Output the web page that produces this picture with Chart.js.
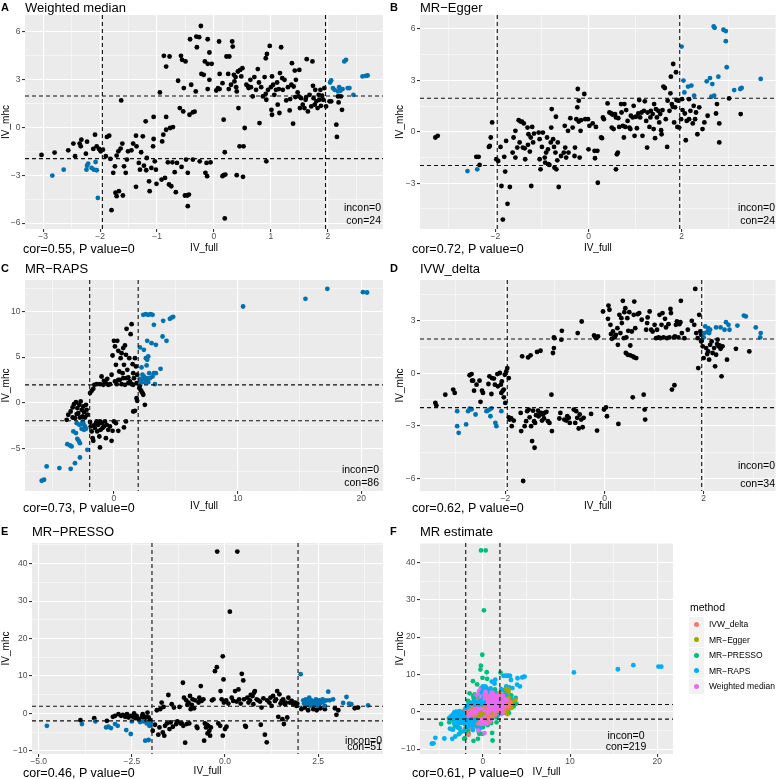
<!DOCTYPE html>
<html>
<head>
<meta charset="utf-8">
<script src="https://cdn.jsdelivr.net/npm/chart.js@4.4.0/dist/chart.umd.min.js"></script>
<style>
  body { margin: 0; background: #fff; width: 778px; height: 779px; position: relative; overflow: hidden;
         font-family: "Liberation Sans", Arial, sans-serif; }
  canvas { position: absolute; }
  .t { position: absolute; white-space: nowrap; line-height: 1; color: #000; }
  .key { position: absolute; width: 15px; height: 15px; background: #F2F2F2; }
  .dot { position: absolute; width: 5px; height: 5px; border-radius: 50%; left: 5px; top: 5px; }
</style>
</head>
<body>
<script>
// ---- data: [IV_full, IV_mhc] ----
const weightedMedian = [
  [-3.03,-1.73],[-2.80,-1.58],[-2.84,-3.02],[-2.64,-2.65],[-2.56,-1.44],[-2.47,-1.02],[-2.44,-1.81],[-2.36,-1.02],
  [-2.33,-0.77],[-2.34,-1.19],[-2.25,-1.65],[-2.23,-0.9],[-2.24,-2.65],[-2.23,-2.4],[-2.21,-2.27],[-2.15,-2.54],
  [-2.11,-2.65],[-2.06,-2.69],[-2.08,-2.17],[-2.12,-1.35],[-2.09,-0.46],[-2.06,-1.19],[-2.02,-1.35],[-2.04,-4.42],
  [-1.99,-1.5],[-1.95,-1.4],[-1.90,-1.81],[-1.88,-0.6],[-1.84,-0.52],[-1.82,-1.98],[-1.80,-5.19],[-1.77,-2.85],
  [-1.74,-2.44],[-1.73,-4.1],[-1.71,-4.31],[-1.67,-4.0],[-1.71,-1.77],[-1.68,-1.5],[-1.64,-1.33],[-1.61,-1.02],
  [-1.63,1.69],[-1.60,-4.27],[-1.58,-2.44],[-1.55,-2.85],[-1.53,-2.02],[-1.51,-1.5],[-1.45,-1.44],[-1.42,-1.02],
  [-1.37,-0.52],[-1.36,-1.19],[-1.37,-3.73],[-1.32,-2.23],[-1.30,-2.65],[-1.28,-1.56],[-1.25,-0.56],[-1.23,-2.4],
  [-1.19,-2.69],[-1.20,0.38],[-1.18,-1.92],[-1.14,-3.38],[-1.13,-4.0],[-1.10,-2.54],[-1.07,-1.19],[-1.06,-0.73],
  [-1.04,-2.13],[-1.06,0.65],[-1.01,-3.54],[-1.02,-2.65],[-0.95,2.19],[-0.92,-3.27],[-0.91,-0.88],[-0.89,-0.46],
  [-0.88,4.48],[-0.86,-3.17],[-0.84,3.81],[-0.84,-0.15],[-0.81,-2.19],[-0.79,-3.58],[-0.78,4.44],[-0.84,0.65],
  [-0.77,-0.04],[-0.75,-3.69],[-0.73,-2.19],[-0.72,0.02],[-0.69,-2.81],[-0.67,-4.06],[-0.65,-2.23],[-0.63,2.92],
  [-0.60,1.21],[-0.58,4.48],[-0.56,4.23],[-0.57,-2.48],[-0.54,1.0],[-0.53,2.46],[-0.51,-4.27],[-0.50,4.13],
  [-0.49,-2.02],[-0.47,-4.27],[-0.46,-4.94],[-0.46,-2.85],[-0.44,-4.21],[-0.43,0.79],[-0.42,5.52],[-0.40,2.67],
  [-0.37,-2.02],[-0.37,0.94],[-0.34,0.98],[-0.32,2.25],[-0.31,5.69],[-0.30,5.02],[-0.26,5.65],[-0.25,-2.13],
  [-0.23,6.35],[-0.22,3.35],[-0.18,3.29],[-0.16,4.13],[-0.15,-2.85],[-0.13,-2.23],[-0.12,-3.06],[-0.11,5.52],
  [-0.11,3.98],[-0.11,2.4],[-0.08,4.69],[-0.08,2.98],[-0.06,-2.19],[-0.04,3.98],[0.04,2.31],[0.07,2.46],
  [0.10,2.4],[0.09,5.38],[0.10,3.35],[0.15,2.77],[0.15,-3.06],[0.17,-3.0],[0.17,0.48],[0.19,-1.56],
  [0.19,-5.71],[0.20,-2.96],[0.22,4.44],[0.25,3.35],[0.26,2.4],[0.27,4.44],[0.30,2.67],[0.32,5.38],
  [0.33,5.06],[0.35,3.29],[0.36,2.88],[0.38,3.15],[0.39,2.52],[0.40,-3.0],[0.40,2.25],[0.42,3.5],
  [0.43,1.21],[0.45,-1.19],[0.46,3.6],[0.48,3.19],[0.50,3.71],[0.51,-3.1],[0.52,-1.19],[0.54,-0.04],
  [0.57,2.67],[0.60,2.56],[0.61,2.46],[0.64,2.98],[0.65,2.52],[0.68,1.94],[0.71,3.15],[0.74,2.35],
  [0.77,3.65],[0.79,2.81],[0.80,0.27],[0.83,2.52],[0.86,1.94],[0.89,3.15],[0.91,4.33],[0.91,2.1],
  [0.92,1.73],[0.93,4.6],[0.92,-2.13],[0.95,2.35],[0.98,5.1],[1.0,2.52],[1.01,1.1],[1.02,0.79],
  [1.02,3.19],[1.04,2.67],[1.06,2.04],[1.09,2.35],[1.11,2.81],[1.12,1.42],[1.14,2.4],[1.15,0.9],
  [1.16,3.4],[1.18,5.02],[1.20,3.08],[1.21,2.35],[1.24,2.98],[1.27,1.69],[1.30,2.52],[1.33,1.06],
  [1.34,1.77],[1.36,2.67],[1.37,4.02],[1.39,0.23],[1.40,2.56],[1.42,3.56],[1.43,1.9],[1.44,2.98],
  [1.47,2.19],[1.49,1.94],[1.50,3.6],[1.51,1.21],[1.53,1.83],[1.56,1.42],[1.59,1.21],[1.61,1.73],
  [1.62,1.9],[1.63,4.27],[1.65,1.0],[1.68,2.04],[1.71,1.31],[1.73,4.13],[1.74,2.6],[1.75,1.83],
  [1.77,1.42],[1.78,2.35],[1.80,1.63],[1.82,1.21],[1.84,2.04],[1.85,1.73],[1.87,2.35],[1.88,1.35],
  [1.90,1.98],[1.92,1.73],[1.94,2.46],[1.97,1.31],[2.03,1.63],[2.06,1.63],[2.04,2.81],[2.06,2.94],
  [2.09,2.46],[2.12,2.35],[2.15,0.17],[2.16,-0.6],[2.18,1.94],[2.18,2.25],[2.19,1.56],[2.20,2.52],
  [2.22,2.29],[2.23,1.94],[2.25,1.1],[2.26,2.4],[2.29,4.13],[2.32,4.23],[2.35,2.46],[2.38,2.46],
  [2.45,2.04],[2.61,3.19],[2.67,3.23],[2.70,3.25]
];

const mrEgger = [
  [-3.29,-0.33],[-3.24,-0.23],[-2.6,-2.29],[-2.39,-2.19],[-2.41,-1.46],[-2.36,-1.46],[-2.34,-1.93],[-2.14,-0.88],
  [-2.12,-0.82],[-2.10,-0.33],[-2.07,0.55],[-1.98,-1.6],[-1.94,-1.7],[-1.89,-0.88],[-1.87,-3.16],[-1.84,-5.12],
  [-1.81,-1.46],[-1.79,-2.32],[-1.77,-0.53],[-1.74,-4.2],[-1.69,-3.22],[-1.63,-1.21],[-1.61,-0.33],[-1.57,0.06],
  [-1.57,-1.5],[-1.53,-0.92],[-1.50,0.68],[-1.48,-0.62],[-1.46,0.6],[-1.43,0.6],[-1.41,-0.92],[-1.39,0.49],
  [-1.37,-0.96],[-1.36,-1.6],[-1.31,0.25],[-1.30,-0.76],[-1.29,-0.14],[-1.26,-1.15],[-1.24,-0.33],[-1.23,-3.16],
  [-1.21,0.29],[-1.19,-0.62],[-1.17,-0.1],[-1.07,-0.04],[-1.05,-0.43],[-1.05,-1.6],[-1.03,-2.19],[-1.0,-0.88],
  [-0.98,-0.04],[-0.94,-1.5],[-0.93,-1.8],[-0.91,-1.21],[-0.89,-0.33],[-0.87,-1.02],[-0.86,-1.89],[-0.84,-1.93],
  [-0.81,-0.62],[-0.80,0.25],[-0.79,1.33],[-0.76,-0.43],[-0.74,-0.88],[-0.73,-2.09],[-0.71,-1.21],[-0.70,0.88],
  [-0.69,-2.19],[-0.67,-1.66],[-0.66,-0.62],[-0.64,-3.22],[-0.59,-1.41],[-0.53,-1.21],[-0.51,0.35],[-0.50,-0.92],
  [-0.48,-1.5],[-0.44,0.06],[-0.43,-1.21],[-0.39,0.8],[-0.34,0.25],[-0.30,-1.41],[-0.29,-0.92],[-0.26,0.74],
  [-0.24,1.43],[-0.23,2.5],[-0.21,1.82],[-0.21,0.6],[-0.19,-1.5],[-0.17,0.06],[-0.16,0.68],[-0.09,2.21],
  [-0.07,0.74],[-0.01,0.74],[0.0,-1.02],[0.02,0.35],[0.09,0.49],[0.13,-1.11],[0.14,-1.54],[0.16,0.29],
  [0.19,-1.11],[0.2,-2.97],[0.27,-0.33],[0.29,-0.37],[0.31,0.84],[0.33,0.74],[0.41,1.66],[0.45,1.13],
  [0.49,1.07],[0.50,0.25],[0.52,1.0],[0.54,0.16],[0.57,1.04],[0.59,0.84],[0.61,-1.31],[0.63,-1.21],
  [0.59,-2.19],[0.64,0.8],[0.66,0.29],[0.70,1.62],[0.71,1.13],[0.74,0.35],[0.76,-0.33],[0.77,1.62],
  [0.79,0.29],[0.81,1.27],[0.84,0.64],[0.88,0.25],[0.90,0.16],[0.91,0.94],[0.95,0.84],[0.97,1.52],
  [0.99,-0.23],[1.02,0.88],[1.04,0.21],[1.07,1.07],[1.09,1.86],[1.11,0.84],[1.14,1.13],[1.16,-0.23],
  [1.19,1.23],[1.21,1.78],[1.24,0.64],[1.26,-0.92],[1.27,1.13],[1.31,0.29],[1.33,0.84],[1.34,1.23],
  [1.38,1.04],[1.40,0.16],[1.41,1.62],[1.43,-0.37],[1.45,1.33],[1.47,0.84],[1.50,1.23],[1.52,0.55],
  [1.54,1.04],[1.56,0.1],[1.57,-0.14],[1.59,1.27],[1.61,2.64],[1.64,2.56],[1.66,0.74],[1.69,-0.88],
  [1.70,1.82],[1.74,1.23],[1.76,2.25],[1.77,3.22],[1.79,1.62],[1.81,1.46],[1.82,3.96],[1.84,0.55],
  [1.86,1.43],[1.88,3.48],[1.89,1.86],[1.91,0.29],[1.93,1.82],[1.95,0.25],[1.99,0.74],[2.0,4.98],
  [2.01,1.91],[2.02,1.27],[2.04,2.99],[2.06,2.3],[2.07,1.07],[2.09,-0.49],[2.11,0.64],[2.14,2.64],
  [2.16,1.91],[2.16,0.74],[2.19,1.23],[2.21,2.7],[2.24,0.49],[2.26,1.52],[2.27,2.11],[2.29,0.74],
  [2.31,1.13],[2.34,-0.14],[2.38,1.43],[2.45,0.16],[2.49,0.55],[2.54,2.95],[2.56,0.94],[2.61,3.14],
  [2.64,2.05],[2.66,2.79],[2.69,6.15],[2.71,6.07],[2.70,2.11],[2.74,1.07],[2.76,1.62],[2.79,3.22],
  [2.81,0.49],[2.81,-0.62],[2.90,5.96],[2.95,5.88],[2.95,5.29],[2.97,3.77],[3.02,1.95],[3.13,2.44],
  [3.26,2.5],[3.29,2.56],[3.27,1.04],[3.70,3.09]
];

const mrRaps = [
  [10.44,10.55],[15.48,11.39],[17.25,12.48],[20.13,12.12],[20.46,12.08],
  [2.37,9.64],[2.58,9.71],[2.77,9.64],[2.96,9.71],[3.12,9.64],[3.23,8.54],[3.98,8.98],[4.52,9.2],
  [4.66,9.34],[4.79,9.42],[3.93,7.26],[4.25,6.79],[2.10,6.06],[2.69,6.79],[3.04,6.53],[3.39,6.35],
  [2.42,5.8],[2.58,4.89],[2.69,4.71],[2.77,5.07],[2.64,4.09],[2.23,3.87],[2.31,3.07],[2.42,2.88],
  [2.37,2.52],[2.58,2.41],[2.77,2.26],[2.91,2.7],[3.12,2.88],[3.23,3.25],[3.39,3.25],[3.77,3.72],
  [3.31,2.04],[2.15,2.15],[2.10,2.63],[2.23,2.34],[2.50,2.26],[2.64,2.7],[2.85,3.25],
  [-5.84,-8.54],[-5.65,-8.43],[-5.44,-6.97],[-4.41,-7.15],[-3.50,-7.23],[-3.15,-6.61],[-2.75,-5.99],
  [-3.77,-4.53],[-3.55,-4.67],[-3.42,-4.78],[-3.28,-3.14],[-3.07,-3.32],[-2.96,-3.94],[-2.85,-4.16],
  [-2.75,-4.42],[-2.61,-2.85],[-2.80,-2.41],[-3.01,-2.23],[-2.48,-2.23],[-2.34,-2.59],[-2.26,-2.85],
  [-2.15,-5.15],[-2.53,-2.04],[-2.64,-2.34],[-2.42,-2.96],
  [-3.82,-1.86],[-3.69,-1.31],[-3.50,-0.95],[-3.34,-0.51],[-3.23,-0.15],[-3.07,0.07],[-2.96,-0.58],
  [-2.88,-1.13],[-2.80,-0.22],[-2.69,0.15],[-2.61,-0.77],[-2.53,-1.5],[-2.48,-0.4],[-2.42,-1.02],
  [-2.34,-1.61],[-2.26,-0.22],[-2.21,-0.77],[-2.15,-1.31],[-3.34,-1.61],[-3.15,-1.68],[-2.75,-1.61],
  [-3.01,-1.24],
  [-1.93,-2.1],[-1.88,-2.59],[-1.80,-3.14],[-1.72,-3.87],[-1.67,-4.16],[-1.53,-2.77],[-1.45,-2.23],
  [-1.35,-3.14],[-1.27,-2.41],[-1.18,-3.69],[-1.13,-4.89],[-1.08,-2.96],[-1.0,-2.23],[-0.92,-2.77],
  [-0.81,-2.59],[-0.65,-3.87],[-0.59,-2.41],[-0.46,-2.96],[-0.32,-2.59],[-0.19,-4.16],[-0.11,-3.07],
  [0.0,-2.04],[0.16,-2.23],[0.35,-3.07],[0.81,-2.7],[0.97,-2.04],[-1.62,-2.48],[-1.40,-2.04],
  [-1.13,-2.04],[-0.73,-2.04],
  [-1.93,1.06],[-1.80,1.31],[-1.67,1.53],[-1.59,1.97],[-1.40,2.04],[-1.13,2.04],[-1.0,2.88],[-0.81,2.41],
  [-0.65,2.15],[-0.54,2.63],[-0.32,2.04],[-0.19,3.07],[-0.11,5.18],[0.0,6.79],[0.08,6.17],[0.16,4.16],
  [0.27,6.79],[0.35,5.69],[0.43,3.43],[0.48,2.52],[0.54,4.89],[0.62,5.44],[0.70,3.25],[0.75,5.99],
  [0.81,4.16],[0.89,6.28],[0.97,5.26],[1.02,8.1],[1.08,3.61],[1.16,2.77],[1.24,4.89],[1.35,7.52],
  [1.43,8.61],[1.51,4.23],[1.56,3.25],[1.62,2.7],[1.70,4.89],[1.78,3.98],[1.83,2.15],[1.88,3.07],
  [0.22,2.04],[0.08,2.34],[0.35,2.52],[0.62,2.04],[0.75,2.7],[0.89,1.97],[1.02,2.7],[1.16,2.15],
  [1.29,2.34],[1.43,2.04],[1.56,1.97],[-0.46,1.97],[-0.86,1.97],
  [1.83,0.51],[1.70,-0.88],[1.56,-0.95],[2.05,1.61],[2.15,1.42],[2.23,1.24],[2.31,1.06],[2.37,0.88],
  [2.50,-0.22],[2.10,1.90],[1.88,0.22]
];

const ivwDelta = [
  [-3.41,-1.69],[-3.39,-1.84],[-3.21,-1.22],[-3.05,-0.93],[-3.02,-1.12],[-2.97,-2.16],[-2.97,-3.02],[-2.94,-3.40],
  [-2.79,-2.92],[-2.75,-2.16],[-2.72,-2.02],[-2.68,-2.05],[-2.72,-0.11],[-2.68,-0.04],[-2.67,-0.42],[-2.65,-0.42],
  [-2.63,-0.99],[-2.60,-2.35],[-2.58,-0.65],[-2.52,-0.42],[-2.50,-1.63],[-2.47,-0.99],[-2.45,-1.12],[-2.38,-2.16],
  [-2.36,-2.13],[-2.32,-2.07],[-2.30,-2.45],[-2.28,-2.0],[-2.34,-0.61],[-2.32,-0.17],[-2.28,-1.18],[-2.27,-0.27],
  [-2.23,-0.30],[-2.21,-0.65],[-2.20,-2.83],[-2.18,-3.02],[-2.16,-0.04],[-2.15,-0.74],[-2.11,0.02],[-2.09,-0.65],
  [-2.08,-2.16],[-2.08,-1.12],[-2.07,-0.46],[-2.05,-0.99],[-2.03,-0.93],[-2.01,-0.08],[-2.0,-1.69],[-1.98,0.11],
  [-1.96,0.30],[-1.93,-0.27],[-2.03,-1.37],[-1.93,-2.51],[-1.91,-2.64],[-1.88,-2.58],[-1.87,-3.02],[-1.83,-2.70],
  [-1.69,-2.26],[-1.68,-3.30],[-1.66,0.97],[-1.64,-6.15],[-1.61,-3.02],[-1.58,-2.73],[-1.56,-2.16],[-1.54,0.91],
  [-1.53,-2.07],[-1.51,-2.51],[-1.49,1.03],[-1.48,-3.02],[-1.46,-3.87],[-1.44,-2.13],[-1.42,-2.73],[-1.41,-4.25],
  [-1.40,-2.83],[-1.38,-2.39],[-1.36,1.22],[-1.34,-2.13],[-1.33,-2.45],[-1.31,-2.35],[-1.29,1.29],[-1.28,-2.26],
  [-1.26,-2.70],[-1.24,-2.35],[-1.22,-2.58],[-1.21,-2.26],[-1.17,-2.20],[-1.14,-2.73],[-1.11,-2.83],[-1.07,-1.22],
  [-1.06,-3.30],[-1.04,1.16],[-1.02,1.44],[-1.02,2.05],[-1.01,2.01],[-0.91,-2.58],[-0.89,-2.26],[-0.87,1.92],
  [-0.86,2.43],[-0.81,-2.64],[-0.77,-2.70],[-0.75,-2.45],[-0.72,-2.54],[-0.70,-2.83],[-0.62,-2.07],[-0.59,-2.83],
  [-0.57,-2.16],[-0.55,-2.54],[-0.54,2.30],[-0.52,-3.15],[-0.50,-2.35],[-0.47,-2.64],[-0.46,2.96],[-0.44,-3.08],
  [-0.42,-2.54],[-0.27,-2.32],[-0.21,2.16],[-0.19,2.09],[-0.17,2.01],[-0.15,-3.27],[-0.13,2.11],[-0.03,3.53],
  [-0.01,-2.07],[0.03,-1.94],[0.05,-2.45],[0.07,3.11],[0.08,3.87],[0.10,3.63],[0.12,2.77],[0.13,2.24],
  [0.15,1.97],[0.17,2.39],[0.20,2.05],[0.21,2.11],[0.23,2.20],[0.26,2.58],[0.27,1.63],[0.28,-2.89],
  [0.30,3.34],[0.32,2.30],[0.34,3.15],[0.35,2.87],[0.37,4.14],[0.39,2.01],[0.40,3.49],[0.42,3.72],
  [0.43,1.16],[0.44,2.05],[0.46,3.15],[0.47,1.06],[0.48,2.43],[0.50,3.49],[0.52,1.59],[0.52,1.03],
  [0.55,2.39],[0.57,0.97],[0.59,3.34],[0.60,4.10],[0.60,0.91],[0.62,2.58],[0.64,0.87],[0.57,-1.37],
  [0.67,3.38],[0.70,3.44],[0.75,3.06],[0.79,-1.22],[0.81,-2.07],[0.82,-2.64],[0.84,2.49],[0.86,2.87],
  [0.87,3.19],[0.91,3.53],[0.94,2.49],[0.97,2.39],[1.01,2.77],[1.04,2.01],[1.06,2.49],[1.09,2.05],
  [1.11,3.34],[1.13,2.01],[1.15,2.77],[1.17,3.44],[1.19,2.05],[1.22,3.11],[1.24,2.62],[1.26,2.01],
  [1.29,2.81],[1.31,2.05],[1.33,3.68],[1.34,3.44],[1.36,-0.93],[1.40,2.05],[1.41,-0.68],[1.42,2.11],
  [1.44,2.77],[1.46,2.96],[1.49,2.05],[1.51,2.81],[1.53,2.92],[1.54,4.14],[1.56,2.30],[1.61,2.01],
  [1.68,2.49],[1.76,3.0],[1.81,2.77],[1.83,4.82],[1.85,2.30],[1.88,2.01],[1.89,0.30],[1.91,3.34],
  [1.93,2.39],[1.95,1.82],[1.96,1.86],[1.95,2.20],[2.0,2.05],[2.01,2.30],[2.03,2.68],[2.07,2.35],
  [2.09,2.58],[2.11,2.30],[2.13,2.49],[1.98,1.54],[2.0,0.87],[2.05,1.44],[2.07,1.10],[2.09,1.25],
  [2.11,0.78],[2.13,1.63],[2.16,1.82],[2.18,1.16],[2.21,1.44],[2.23,0.40],[2.25,1.06],[2.27,1.67],
  [2.28,1.92],[2.30,1.54],[2.32,1.59],[2.34,1.40],[2.35,1.48],[2.36,-0.17],[2.38,1.54],[2.25,2.62],
  [2.34,2.62],[2.42,2.49],[2.45,2.92],[2.50,2.77],[2.52,2.49],[2.47,0.78],[2.65,1.40],[2.68,2.73],
  [2.81,3.30],[2.85,3.25],[2.92,1.25],[3.05,2.62],[3.15,2.30],[3.14,2.05]
];

const mrPresso = [
  [-4.78,-3.27],[-3.84,-2.82],[-3.88,-1.77],[-3.48,-2.12],[-3.51,-1.24],[-3.19,-3.71],[-3.13,-3.53],[-3.06,-3.88],
  [-2.95,-2.82],[-2.88,-3.27],[-2.65,-4.41],[-2.53,-5.47],[-3.17,-1.94],[-3.01,-0.88],[-2.95,-0.62],[-2.86,-0.18],
  [-2.79,-0.62],[-2.74,-0.35],[-2.68,-0.88],[-2.63,-0.18],[-2.59,-1.06],[-2.54,-0.62],[-2.50,-2.12],[-2.47,-0.88],
  [-2.44,0.0],[-2.41,-1.24],[-2.37,-0.62],[-2.32,-1.5],[-2.28,-2.29],[-2.23,-0.88],[-2.21,-0.18],[-2.19,-2.12],
  [-2.17,-1.5],[-2.14,-7.24],[-2.12,-0.88],[-2.10,-2.65],[-2.08,0.26],[-2.05,-7.06],[-2.05,-1.06],[-2.03,-3.27],
  [-2.01,-1.77],[-1.99,-2.65],[-1.94,-4.59],[-1.88,-3.0],[-1.83,0.88],[-1.79,-5.65],[-1.76,-3.71],[-1.74,1.15],
  [-1.70,2.91],[-1.67,-5.03],[-1.65,1.77],[-1.63,-5.91],[-1.61,-3.27],[-1.56,-2.65],[-1.52,4.94],[-1.49,-4.15],
  [-1.46,-2.38],[-1.43,2.47],[-1.40,-3.53],[-1.37,1.59],[-1.31,-2.82],[-1.28,-2.12],[-1.22,1.77],[-1.19,-2.65],
  [-1.16,-2.65],[-1.13,8.21],[-1.12,-3.27],[-1.10,4.24],[-1.07,-7.77],[-1.04,3.53],[-1.03,-2.82],[-1.01,2.29],
  [-0.98,2.91],[-0.96,-2.65],[-0.94,4.68],[-0.92,1.15],[-0.89,2.29],[-0.87,3.79],[-0.83,1.41],[-0.80,3.53],
  [-0.76,-3.53],[-0.74,-3.88],[-0.71,2.91],[-0.69,4.24],[-0.67,3.53],[-0.65,7.33],[-0.63,3.35],[-0.58,3.79],
  [-0.56,-7.24],[-0.54,-2.65],[-0.51,-3.71],[-0.49,-3.0],[-0.47,-5.30],[-0.45,-3.27],[-0.42,-4.59],[-0.40,-5.91],
  [-0.38,-3.71],[-0.35,3.53],[-0.31,3.79],[-0.27,11.3],[-0.22,12.36],[-0.21,43.2],[-0.18,-2.65],[-0.13,-3.27],
  [-0.12,6.0],[-0.09,3.79],[-0.06,15.27],[-0.06,-5.91],[-0.04,9.09],[-0.03,2.91],[0.0,-4.15],[0.03,3.53],
  [0.04,-3.53],[0.09,2.65],[0.13,27.18],[0.18,4.24],[0.22,3.35],[0.27,6.0],[0.31,3.18],[0.33,43.2],
  [0.36,6.44],[0.38,3.79],[0.42,2.65],[0.45,10.59],[0.49,8.83],[0.51,3.79],[0.54,-3.27],[0.56,-3.53],
  [0.60,4.24],[0.63,2.91],[0.67,3.53],[0.69,4.94],[0.74,4.68],[0.76,2.47],[0.78,5.56],[0.80,6.0],
  [0.85,3.79],[0.89,3.53],[0.94,3.18],[0.96,-3.0],[0.98,1.59],[1.03,4.06],[1.07,-5.65],[1.12,-7.68],
  [1.13,3.53],[1.19,2.91],[1.22,4.24],[1.25,2.03],[1.29,4.68],[1.34,3.35],[1.37,3.79],[1.40,6.0],
  [1.43,-0.88],[1.46,5.12],[1.49,2.65],[1.52,3.35],[1.54,-1.5],[1.56,3.79],[1.58,-2.82],[1.61,2.47],
  [1.63,2.91],[1.67,-1.06],[1.70,4.24],[1.74,2.91],[1.79,3.35],[1.83,2.47],[1.88,2.91],[1.92,2.03],
  [1.94,2.65],[2.03,10.5],[2.10,3.53],[2.12,2.65],[2.14,1.59],[2.17,3.79],[2.19,2.91],[2.23,2.29],
  [2.26,4.24],[2.28,3.18],[2.29,2.03],[2.32,3.53],[2.35,2.65],[2.37,1.15],[2.38,3.18],[2.41,2.29],
  [2.44,3.79],[2.46,2.91],[2.47,2.03],[2.50,3.35],[2.53,2.47],[2.54,3.53],[2.56,1.41],[2.59,2.91],
  [2.62,3.79],[2.65,3.18],[2.68,2.03],[2.72,3.53],[2.77,5.83],[2.81,3.53],[2.90,3.79],[2.95,1.41],
  [2.99,-0.35],[3.04,0.88],[3.17,2.82],[3.26,4.41],[3.33,2.65],[3.39,2.47],[3.48,1.41],[3.57,1.59],
  [3.84,2.2],[2.05,1.15],[2.23,0.88],[2.46,0.88],[2.68,1.15]
];

// axis breaks
const wmXTicks = [-3, -2, -1, 0, 1, 2];
const wmYTicks = [-6, -3, 0, 3, 6];
const eggerXTicks = [-2, 0, 2];
const eggerYTicks = [-3, 0, 3, 6];
const rapsXTicks = [0, 10, 20];
const rapsYTicks = [-5, 0, 5, 10];
const ivwXTicks = [-2, 0, 2];
const ivwYTicks = [-6, -3, 0, 3];
const pressoXTicks = [-5, -2.5, 0, 2.5];
const pressoYTicks = [-10, 0, 10, 20, 30, 40];
const allXTicks = [0, 10, 20];
const allYTicks = [-10, 0, 10, 20, 30, 40];

const methods = ['IVW_delta', 'MR\u2212Egger', 'MR\u2212PRESSO', 'MR\u2212RAPS', 'Weighted median'];
const methodColors = ['#F8766D', '#A3A500', '#00BF7D', '#00B0F6', '#E76BF3'];

const THRESH = 1.96;
const FONT = '"Liberation Sans", Arial, sans-serif';

function splitCon(pts) {
  const con = [], other = [];
  pts.forEach(([x, y]) => {
    const c = (x > THRESH && y > THRESH) || (x < -THRESH && y < -THRESH);
    (c ? con : other).push({x, y});
  });
  return {con, other};
}

function tickList(majors, min, max) {
  const step = majors[1] - majors[0];
  const vals = [majors[0] - step / 2];
  majors.forEach(v => vals.push(v, v + step / 2));
  return vals.filter(v => v >= min && v <= max)
    .map(v => ({value: v, isMajor: majors.includes(v)}));
}

const fmt = (v, dec) => v.toFixed(dec).replace('-', '\u2212');

const panelBg = {
  id: 'panelBg',
  beforeDraw(chart) {
    const {ctx, chartArea: a} = chart;
    ctx.save();
    ctx.fillStyle = '#EBEBEB';
    ctx.fillRect(a.left, a.top, a.width, a.height);
    ctx.restore();
  }
};

const refLines = {
  id: 'refLines',
  afterDatasetsDraw(chart) {
    const {ctx, chartArea: a, scales: {x, y}} = chart;
    ctx.save();
    ctx.beginPath(); ctx.rect(a.left, a.top, a.width, a.height); ctx.clip();
    ctx.strokeStyle = '#111'; ctx.lineWidth = 1.1; ctx.setLineDash([4, 3]);
    [-THRESH, THRESH].forEach(v => {
      const px = x.getPixelForValue(v), py = y.getPixelForValue(v);
      ctx.beginPath(); ctx.moveTo(px, a.top); ctx.lineTo(px, a.bottom); ctx.stroke();
      ctx.beginPath(); ctx.moveTo(a.left, py); ctx.lineTo(a.right, py); ctx.stroke();
    });
    ctx.restore();
  }
};

function addText(txt, x, y, o = {}) {
  const d = document.createElement('div');
  d.className = 't';
  d.textContent = txt;
  d.style.left = x + 'px';
  d.style.top = y + 'px';
  d.style.fontSize = (o.size || 12) + 'px';
  if (o.bold) d.style.fontWeight = 'bold';
  const tx = o.align === 'right' ? '-100%' : o.align === 'center' ? '-50%' : '0';
  d.style.transform = `translate(${tx}, -50%)`;
  document.body.appendChild(d);
}

function axis(majors, min, max, dec, extra) {
  return Object.assign({
    type: 'linear', min, max,
    afterBuildTicks: s => { s.ticks = tickList(majors, min, max); },
    ticks: {
      autoSkip: false, maxRotation: 0, color: '#4D4D4D', font: {size: 8.5, family: FONT},
      callback: (v, i, ticks) => ticks[i] && ticks[i].isMajor ? fmt(v, dec) : ''
    },
    grid: {
      color: '#FFFFFF', tickLength: 3,
      lineWidth: c => c.tick && c.tick.isMajor ? 1.1 : 0.5,
      tickColor: c => c.tick && c.tick.isMajor ? '#333333' : 'rgba(0,0,0,0)'
    },
    border: {display: false}
  }, extra);
}

function panel(p, datasets) {
  const cv = document.createElement('canvas');
  cv.width = p.w; cv.height = p.h;
  cv.style.left = p.left + 'px'; cv.style.top = p.top + 'px';
  document.body.appendChild(cv);
  const xAx = axis(p.xTicks, p.xMin, p.xMax, p.dec, {
    position: 'bottom',
    title: {display: true, text: 'IV_full', color: '#000', font: {size: 10, family: FONT, lineHeight: 1.2},
            padding: {top: 0, bottom: p.top + p.h - p.xTitleY - 6}},
    afterFit: s => { s.height = p.top + p.h - p.plot.b; }
  });
  xAx.ticks.padding = 0;
  const yAx = axis(p.yTicks, p.yMin, p.yMax, 0, {
    position: 'left',
    title: {display: true, text: 'IV_mhc', color: '#000', font: {size: 10, family: FONT, lineHeight: 1.2},
            padding: {top: Math.max(0, p.yTitleX - p.left - 6), bottom: 0}},
    afterFit: s => { s.width = p.plot.l - p.left; }
  });
  yAx.ticks.padding = 1.5;
  new Chart(cv, {
    type: 'scatter',
    data: {datasets},
    options: {
      responsive: false, animation: false, devicePixelRatio: 1, events: [],
      layout: {padding: {left: 0, top: p.plot.t - p.top, right: p.left + p.w - p.plot.r, bottom: 0}},
      plugins: {legend: {display: false}, tooltip: {enabled: false}},
      elements: {point: {radius: 2.4, borderWidth: 0, hoverRadius: 2.4}},
      scales: {x: xAx, y: yAx}
    },
    plugins: [panelBg, refLines]
  });
  addText(p.letter, p.left + 1, p.titleY, {size: 11, bold: true});
  addText(p.title, p.plot.l, p.titleY, {size: 13});
  addText(p.cor, p.left + 23, p.xTitleY + 1, {size: 12.5});
}

function conSets(pts) {
  const s = splitCon(pts);
  return [
    {data: s.con, backgroundColor: '#0072B2'},
    {data: s.other, backgroundColor: '#000000'}
  ];
}

const panels = [
  {letter: 'A', title: 'Weighted median', pts: weightedMedian, cor: 'cor=0.55, P value=0', con: 24,
   left: 0, top: 0, w: 389, h: 258, plot: {l: 25, t: 15, r: 383, b: 229},
   xMin: -3.32, xMax: 2.97, yMin: -6.37, yMax: 7.04, xTicks: wmXTicks, yTicks: wmYTicks, dec: 0,
   titleY: 7, xTitleY: 248, yTitleX: 5, ann: {x: 381, y1: 206.5, y2: 219.5, align: 'right'}},
  {letter: 'B', title: 'MR\u2212Egger', pts: mrEgger, cor: 'cor=0.72, P value=0', con: 24,
   left: 389, top: 0, w: 389, h: 258, plot: {l: 420, t: 15, r: 776, b: 229},
   xMin: -3.62, xMax: 4.02, yMin: -5.67, yMax: 6.82, xTicks: eggerXTicks, yTicks: eggerYTicks, dec: 0,
   titleY: 7, xTitleY: 248, yTitleX: 400, ann: {x: 775, y1: 206.5, y2: 220, align: 'right'}},
  {letter: 'C', title: 'MR\u2212RAPS', pts: mrRaps, cor: 'cor=0.73, P value=0', con: 86,
   left: 0, top: 258, w: 389, h: 260, plot: {l: 25, t: 280, r: 383, b: 491},
   xMin: -7.19, xMax: 21.75, yMin: -9.66, yMax: 13.45, xTicks: rapsXTicks, yTicks: rapsYTicks, dec: 0,
   titleY: 268, xTitleY: 506.5, yTitleX: 5, ann: {x: 379, y1: 469, y2: 482, align: 'right'}},
  {letter: 'D', title: 'IVW_delta', pts: ivwDelta, cor: 'cor=0.62, P value=0', con: 34,
   left: 389, top: 258, w: 389, h: 260, plot: {l: 420, t: 280, r: 776, b: 491},
   xMin: -3.72, xMax: 3.45, yMin: -6.72, yMax: 5.33, xTicks: ivwXTicks, yTicks: ivwYTicks, dec: 0,
   titleY: 268, xTitleY: 506.5, yTitleX: 400, ann: {x: 775, y1: 465, y2: 483, align: 'right'}},
  {letter: 'E', title: 'MR\u2212PRESSO', pts: mrPresso, cor: 'cor=0.46, P value=0', con: 51,
   left: 0, top: 518, w: 389, h: 261, plot: {l: 32, t: 543, r: 383, b: 754},
   xMin: -5.18, xMax: 4.24, yMin: -10.8, yMax: 45.5, xTicks: pressoXTicks, yTicks: pressoYTicks, dec: 1,
   titleY: 531, xTitleY: 771.5, yTitleX: 5, ann: {x: 382, y1: 740, y2: 746, align: 'right'}}
];

panels.forEach(p => {
  panel(p, conSets(p.pts));
  addText('incon=0', p.ann.x, p.ann.y1, {size: 10.5, align: p.ann.align});
  addText('con=' + p.con, p.ann.x, p.ann.y2, {size: 10.5, align: p.ann.align});
});

// panel F: every method together, rows interleaved so the colours mix as in the original
const byMethod = [ivwDelta, mrEgger, mrPresso, mrRaps, weightedMedian];
const fPts = [], fCols = [];
const longest = Math.max(...byMethod.map(a => a.length));
for (let k = 0; k < longest; k++) {
  byMethod.forEach((arr, m) => {
    if (k < arr.length) { fPts.push({x: arr[k][0], y: arr[k][1]}); fCols.push(methodColors[m]); }
  });
}
const fPanel = {letter: 'F', title: 'MR estimate', cor: 'cor=0.61, P value=0',
  left: 389, top: 518, w: 389, h: 261, plot: {l: 420, t: 543, r: 673, b: 754},
  xMin: -7.2, xMax: 21.8, yMin: -11.3, yMax: 45.2, xTicks: allXTicks, yTicks: allYTicks, dec: 0,
  titleY: 531, xTitleY: 772, yTitleX: 400};
panel(fPanel, [{data: fPts, backgroundColor: fCols}]);
addText('incon=0', 626, 735, {size: 10.5, align: 'center'});
addText('con=219', 626, 745.5, {size: 10.5, align: 'center'});

// legend
addText('method', 690, 607, {size: 10.5});
methods.forEach((m, i) => {
  const cy = 624 + i * 15.5;
  const k = document.createElement('div');
  k.className = 'key';
  k.style.left = '689px'; k.style.top = (cy - 7.5) + 'px';
  const d = document.createElement('div');
  d.className = 'dot';
  d.style.background = methodColors[i];
  k.appendChild(d);
  document.body.appendChild(k);
  addText(m, 709, cy, {size: 8.5});
});
</script>
</body>
</html>
